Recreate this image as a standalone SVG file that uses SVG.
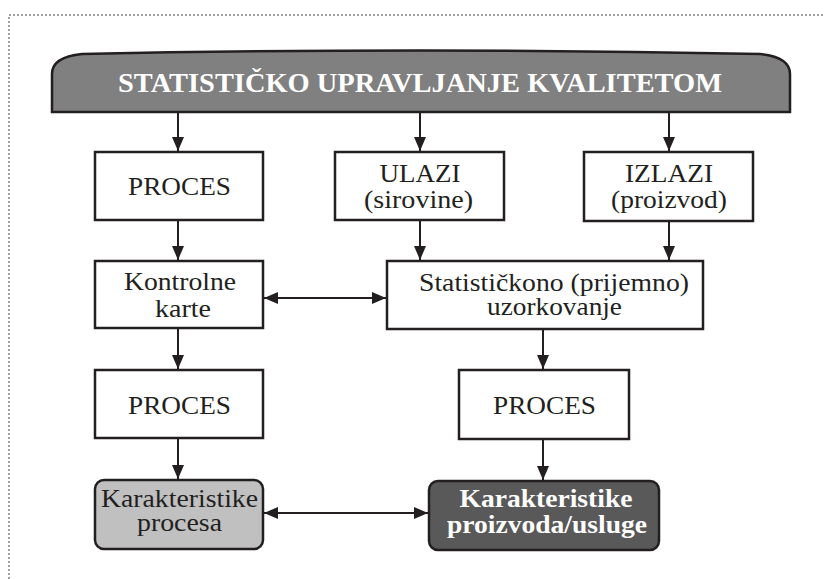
<svg xmlns="http://www.w3.org/2000/svg" width="824" height="579" viewBox="0 0 824 579">
  <style>
    .frame { fill: none; stroke: #a0a0a0; stroke-width: 2; stroke-dasharray: 2 2; }
    .box { fill: #ffffff; stroke: #231f20; stroke-width: 2.5; }
    .head { fill: #808080; stroke: #231f20; stroke-width: 2.5; }
    .light { fill: #c0c0c0; stroke: #231f20; stroke-width: 2.5; }
    .dark { fill: #595959; stroke: #231f20; stroke-width: 2.5; }
    .lbl { font-family: "Liberation Serif", "Times New Roman", serif; font-size: 25px; fill: #231f20; text-anchor: middle; }
    .lblw { font-family: "Liberation Serif", "Times New Roman", serif; font-size: 25px; font-weight: bold; fill: #ffffff; text-anchor: middle; }
    .title { font-family: "Liberation Serif", "Times New Roman", serif; font-size: 27px; font-weight: bold; fill: #ffffff; text-anchor: middle; }
    .wire { fill: none; stroke: #231f20; stroke-width: 2; }
  </style>
  <defs>
    <marker id="arrow" markerUnits="userSpaceOnUse" markerWidth="14" markerHeight="12" refX="14" refY="6" orient="auto-start-reverse">
      <path d="M0,0 L14,6 L0,12 Z" fill="#231f20"/>
    </marker>
  </defs>

  <!-- dotted frame -->
  <path class="frame" d="M9,579 L9,15 L824,15"/>

  <!-- title bar -->
  <g id="header">
    <path class="head" d="M52,112 L52,74 Q52,57 82,54 Q420,47 760,54 Q790,57 790,74 L790,112 Z"/>
    <text class="title" x="420" y="92" textLength="604" lengthAdjust="spacingAndGlyphs">STATISTIČKO  UPRAVLJANJE  KVALITETOM</text>
  </g>

  <g id="proces1">
    <rect class="box" x="95" y="152" width="168" height="68"/>
    <text class="lbl" x="179.5" y="195" textLength="103" lengthAdjust="spacingAndGlyphs">PROCES</text>
  </g>

  <g id="ulazi">
    <rect class="box" x="335" y="152" width="169" height="68"/>
    <text class="lbl" x="420" y="182" textLength="81" lengthAdjust="spacingAndGlyphs">ULAZI</text>
    <text class="lbl" x="418.5" y="208" textLength="109" lengthAdjust="spacingAndGlyphs">(sirovine)</text>
  </g>

  <g id="izlazi">
    <rect class="box" x="584" y="152" width="169" height="69"/>
    <text class="lbl" x="669" y="182" textLength="88" lengthAdjust="spacingAndGlyphs">IZLAZI</text>
    <text class="lbl" x="669" y="208" textLength="116" lengthAdjust="spacingAndGlyphs">(proizvod)</text>
  </g>

  <g id="kontrolne">
    <rect class="box" x="95" y="261" width="168" height="67"/>
    <text class="lbl" x="180" y="290" textLength="112" lengthAdjust="spacingAndGlyphs">Kontrolne</text>
    <text class="lbl" x="183" y="317" textLength="56" lengthAdjust="spacingAndGlyphs">karte</text>
  </g>

  <g id="uzorkovanje">
    <rect class="box" x="387" y="261" width="316" height="68"/>
    <text class="lbl" x="554" y="291" textLength="270" lengthAdjust="spacingAndGlyphs">Statističkono (prijemno)</text>
    <text class="lbl" x="554.5" y="315" textLength="135" lengthAdjust="spacingAndGlyphs">uzorkovanje</text>
  </g>

  <g id="proces2">
    <rect class="box" x="95" y="370" width="168" height="68"/>
    <text class="lbl" x="179.5" y="414" textLength="103" lengthAdjust="spacingAndGlyphs">PROCES</text>
  </g>

  <g id="proces3">
    <rect class="box" x="459" y="370" width="170" height="69"/>
    <text class="lbl" x="544.5" y="414" textLength="103" lengthAdjust="spacingAndGlyphs">PROCES</text>
  </g>

  <g id="kar-procesa">
    <rect class="light" x="95" y="480" width="168" height="69" rx="9" ry="9"/>
    <text class="lbl" x="179.5" y="507" textLength="157" lengthAdjust="spacingAndGlyphs">Karakteristike</text>
    <text class="lbl" x="179.5" y="531" textLength="85" lengthAdjust="spacingAndGlyphs">procesa</text>
  </g>

  <g id="kar-proizvoda">
    <rect class="dark" x="429" y="481" width="230" height="69" rx="9" ry="9"/>
    <text class="lblw" x="546" y="507" textLength="173" lengthAdjust="spacingAndGlyphs">Karakteristike</text>
    <text class="lblw" x="547" y="533" textLength="200" lengthAdjust="spacingAndGlyphs">proizvoda/usluge</text>
  </g>

  <g id="connectors">
    <line class="wire" x1="178" y1="112" x2="178" y2="151" marker-end="url(#arrow)"/>
    <line class="wire" x1="420" y1="112" x2="420" y2="151" marker-end="url(#arrow)"/>
    <line class="wire" x1="669" y1="112" x2="669" y2="151" marker-end="url(#arrow)"/>
    <line class="wire" x1="178" y1="220" x2="178" y2="260" marker-end="url(#arrow)"/>
    <line class="wire" x1="420" y1="220" x2="420" y2="260" marker-end="url(#arrow)"/>
    <line class="wire" x1="669" y1="221" x2="669" y2="260" marker-end="url(#arrow)"/>
    <line class="wire" x1="264" y1="298" x2="386" y2="298" marker-start="url(#arrow)" marker-end="url(#arrow)"/>
    <line class="wire" x1="178" y1="328" x2="178" y2="369" marker-end="url(#arrow)"/>
    <line class="wire" x1="543" y1="329" x2="543" y2="369" marker-end="url(#arrow)"/>
    <line class="wire" x1="178" y1="438" x2="178" y2="479" marker-end="url(#arrow)"/>
    <line class="wire" x1="543" y1="439" x2="543" y2="480" marker-end="url(#arrow)"/>
    <line class="wire" x1="264" y1="513" x2="428" y2="513" marker-start="url(#arrow)" marker-end="url(#arrow)"/>
  </g>
</svg>
